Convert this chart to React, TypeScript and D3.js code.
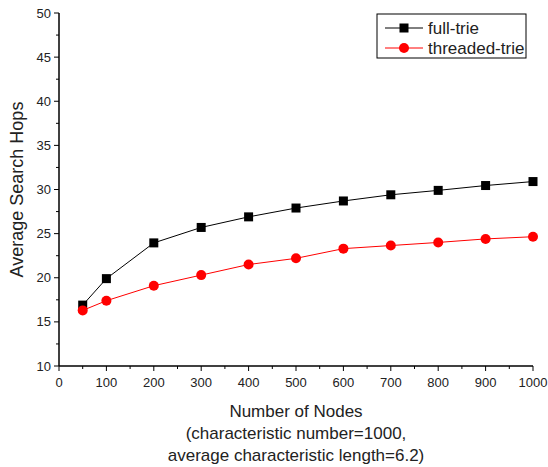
import React from "react";
import * as d3 from "d3";

const nodes = [50, 100, 200, 300, 400, 500, 600, 700, 800, 900, 1000];
const fullTrie = [16.9, 19.9, 23.95, 25.7, 26.9, 27.9, 28.7, 29.4, 29.9, 30.45, 30.9];
const threadedTrie = [16.3, 17.4, 19.1, 20.3, 21.5, 22.2, 23.3, 23.65, 24.0, 24.4, 24.65];
const xTicks = [0, 100, 200, 300, 400, 500, 600, 700, 800, 900, 1000];
const yTicks = [10, 15, 20, 25, 30, 35, 40, 45, 50];
const seriesNames = ["full-trie", "threaded-trie"];

export default function App() {
  const W = 548, H = 467;
  const x = d3.scaleLinear().domain([0, 1000]).range([59, 533]);
  const y = d3.scaleLinear().domain([10, 50]).range([366, 13]);
  const font = "'Liberation Sans', Arial, Helvetica, sans-serif";
  const line = d3.line<number>().x((_, i) => x(nodes[i])).y((d) => y(d));
  const xMinor = d3.range(50, 1000, 100);
  const yMinor = d3.range(12.5, 50, 5);
  return (
    <svg width={W} height={H} style={{ position: "absolute", left: 0, top: 0 }} fontFamily={font}>
      <rect width={W} height={H} fill="#fff" />
      {/* axes */}
      <line x1={x(0)} x2={x(1000)} y1={y(10)} y2={y(10)} stroke="#000" strokeWidth={1.5} />
      <line x1={x(0)} x2={x(0)} y1={y(10)} y2={y(50)} stroke="#000" strokeWidth={1.5} />
      {xTicks.map((t) => (
        <g key={"xt" + t}>
          <line x1={x(t)} x2={x(t)} y1={y(10)} y2={y(10) + 5} stroke="#000" />
          <text x={x(t)} y={y(10) + 21} textAnchor="middle" fontSize={13} fill="#222">{t}</text>
        </g>
      ))}
      {xMinor.map((t) => (
        <line key={"xm" + t} x1={x(t)} x2={x(t)} y1={y(10)} y2={y(10) + 3} stroke="#000" />
      ))}
      {yTicks.map((t) => (
        <g key={"yt" + t}>
          <line x1={x(0) - 5} x2={x(0)} y1={y(t)} y2={y(t)} stroke="#000" />
          <text x={x(0) - 8} y={y(t) + 4.5} textAnchor="end" fontSize={13} fill="#222">{t}</text>
        </g>
      ))}
      {yMinor.map((t) => (
        <line key={"ym" + t} x1={x(0) - 3} x2={x(0)} y1={y(t)} y2={y(t)} stroke="#000" />
      ))}
      {/* titles */}
      <text transform={`translate(23,${(y(10) + y(50)) / 2}) rotate(-90)`} textAnchor="middle" fontSize={18} fill="#222">Average Search Hops</text>
      <text x={296} y={417} textAnchor="middle" fontSize={17} fill="#222">Number of Nodes</text>
      <text x={296} y={439} textAnchor="middle" fontSize={17} fill="#222">(characteristic number=1000,</text>
      <text x={296} y={461} textAnchor="middle" fontSize={17} fill="#222">average characteristic length=6.2)</text>
      {/* series */}
      <path d={line(fullTrie) || ""} fill="none" stroke="#000" strokeWidth={1} />
      {fullTrie.map((v, i) => (
        <rect key={"f" + i} x={x(nodes[i]) - 4.5} y={y(v) - 4.5} width={9} height={9} fill="#000" />
      ))}
      <path d={line(threadedTrie) || ""} fill="none" stroke="#f00" strokeWidth={1} />
      {threadedTrie.map((v, i) => (
        <circle key={"t" + i} cx={x(nodes[i])} cy={y(v)} r={5} fill="#f00" />
      ))}
      {/* legend */}
      <rect x={377} y={14} width={149} height={44} fill="#fff" stroke="#000" strokeWidth={1} />
      <line x1={385} x2={423} y1={28} y2={28} stroke="#000" />
      <rect x={399.5} y={23.5} width={9} height={9} fill="#000" />
      <text x={428} y={34} fontSize={17} fill="#222">{seriesNames[0]}</text>
      <line x1={385} x2={423} y1={48} y2={48} stroke="#f00" />
      <circle cx={404} cy={48} r={5} fill="#f00" />
      <text x={428} y={54} fontSize={17} fill="#222">{seriesNames[1]}</text>
    </svg>
  );
}
